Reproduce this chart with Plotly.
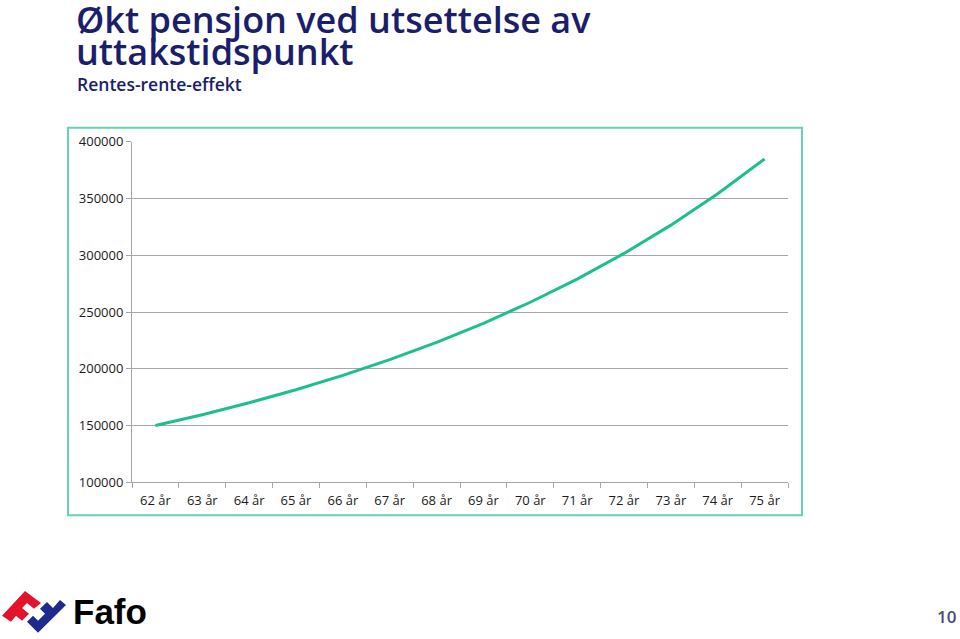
import plotly.graph_objects as go

categories = ["62 år", "63 år", "64 år", "65 år", "66 år", "67 år", "68 år",
              "69 år", "70 år", "71 år", "72 år", "73 år", "74 år", "75 år"]
pension = [150000, 159600, 170100, 181600, 194200, 208100, 223300,
           240100, 258600, 279000, 301600, 326500, 354100, 384700]
y_ticks = [100000, 150000, 200000, 250000, 300000, 350000, 400000]

W, H = 960, 639
# empirical correction for how the page is photographed vertically
Y_OFF, Y_SCALE = 7.8, 0.9756
def px(x): return x / W
def py(y): return 1 - ((y - Y_OFF) / Y_SCALE) / H

fig = go.Figure()
fig.add_trace(go.Scatter(x=categories, y=pension, mode="lines",
                         line=dict(color="#1DBF8E", width=3), showlegend=False,
                         hoverinfo="skip"))

tickfont = dict(family="Open Sans", size=13, color="#1a1a1a")
fig.update_layout(
    width=W, height=H, margin=dict(l=0, r=0, t=0, b=0),
    paper_bgcolor="white", plot_bgcolor="white",
    xaxis=dict(domain=[px(132), px(788)], type="category", range=[-0.5, 13.5],
               showgrid=False, showline=True, linecolor="#a6a6a6", linewidth=1,
               ticks="outside", tickson="boundaries", ticklen=5, tickcolor="#a6a6a6",
               ticklabelstandoff=6,
               tickfont=tickfont, fixedrange=True),
    yaxis=dict(domain=[py(483), py(141)], range=[100000, 400000],
               tickvals=y_ticks, ticktext=[str(v) for v in y_ticks],
               showgrid=True, gridcolor="#a6a6a6", gridwidth=1,
               showline=True, linecolor="#a6a6a6", linewidth=1,
               ticks="outside", ticklen=5, tickcolor="#a6a6a6",
               tickfont=tickfont, zeroline=False, fixedrange=True),
)

# chart area border
fig.add_shape(type="rect", xref="paper", yref="paper",
              x0=px(68), x1=px(802), y0=py(516), y1=py(127),
              line=dict(color="#66D1B5", width=2), fillcolor="rgba(0,0,0,0)")

# titles
title_font = dict(family="Open Sans", size=36, color="#1B1E6B", weight=600)
fig.add_annotation(xref="paper", yref="paper", x=px(74), y=py(18), xanchor="left", yanchor="middle",
                   text="Økt pensjon ved utsettelse av", showarrow=False, font=title_font)
fig.add_annotation(xref="paper", yref="paper", x=px(74), y=py(50), xanchor="left", yanchor="middle",
                   text="uttakstidspunkt", showarrow=False, font=title_font)
fig.add_annotation(xref="paper", yref="paper", x=px(75), y=py(83), xanchor="left", yanchor="middle",
                   text="Rentes-rente-effekt", showarrow=False,
                   font=dict(family="Open Sans", size=17.5, color="#1B1E6B", weight=600))

# Fafo logo (approximation)
def path(pts):
    return "M " + " L ".join(f"{px(x)},{py(y)}" for x, y in pts) + " Z"
red = [(2, 617), (25, 592), (41, 604), (34, 610), (27, 604), (22, 609), (29, 615), (22, 622), (16, 617), (11, 623)]
blue = [(27, 623), (33, 617), (38, 622), (45, 615), (40, 610), (47, 603), (53, 609), (60, 601), (66, 606), (38, 634)]
fig.add_shape(type="path", xref="paper", yref="paper", path=path(red),
              fillcolor="#E3132B", line=dict(width=0))
fig.add_shape(type="path", xref="paper", yref="paper", path=path(blue),
              fillcolor="#1E2A8C", line=dict(width=0))
fig.add_annotation(xref="paper", yref="paper", x=px(71), y=py(613), xanchor="left", yanchor="middle",
                   text="Fafo", showarrow=False,
                   font=dict(family="Liberation Sans", size=35, color="#000000", weight=700))

# page number
fig.add_annotation(xref="paper", yref="paper", x=px(958), y=py(618), xanchor="right", yanchor="middle",
                   text="10", showarrow=False,
                   font=dict(family="Open Sans", size=17, color="#4A4A7A", weight=600))

fig.write_html("out.html")
